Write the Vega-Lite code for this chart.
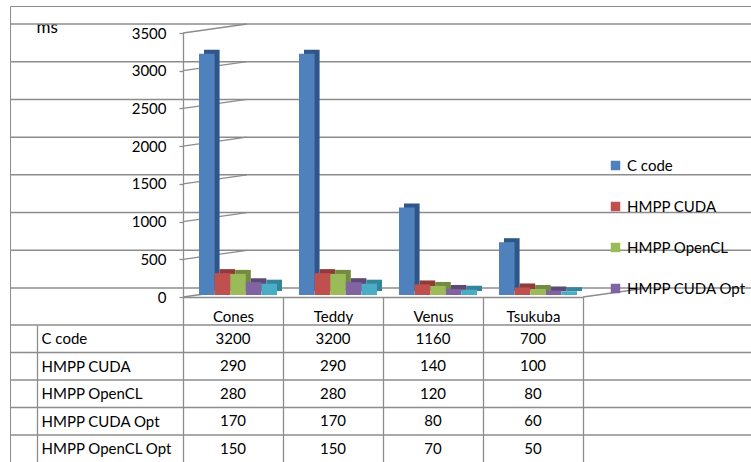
{
  "$schema": "https://vega.github.io/schema/vega-lite/v6.json",
  "width": 745,
  "height": 461,
  "padding": {"left": 10, "top": 6, "right": 0, "bottom": 0},
  "autosize": {"type": "none"},
  "background": "white",
  "config": {
    "view": {"stroke": "#8c8c8c", "strokeWidth": 1},
    "font": "Lato",
    "axis": {"labelFont": "Lato", "labelColor": "#000000", "titleFont": "Lato", "titleColor": "#000000", "titleFontWeight": "normal"},
    "legend": {"labelFont": "Lato", "labelColor": "#000000"},
    "text": {"font": "Lato", "color": "#000000"}
  },
  "datasets": {
    "times": [
      {"category": "Cones", "series": "C code", "value": 3200},
      {"category": "Cones", "series": "HMPP CUDA", "value": 290},
      {"category": "Cones", "series": "HMPP OpenCL", "value": 280},
      {"category": "Cones", "series": "HMPP CUDA Opt", "value": 170},
      {"category": "Cones", "series": "HMPP OpenCL Opt", "value": 150},
      {"category": "Teddy", "series": "C code", "value": 3200},
      {"category": "Teddy", "series": "HMPP CUDA", "value": 290},
      {"category": "Teddy", "series": "HMPP OpenCL", "value": 280},
      {"category": "Teddy", "series": "HMPP CUDA Opt", "value": 170},
      {"category": "Teddy", "series": "HMPP OpenCL Opt", "value": 150},
      {"category": "Venus", "series": "C code", "value": 1160},
      {"category": "Venus", "series": "HMPP CUDA", "value": 140},
      {"category": "Venus", "series": "HMPP OpenCL", "value": 120},
      {"category": "Venus", "series": "HMPP CUDA Opt", "value": 80},
      {"category": "Venus", "series": "HMPP OpenCL Opt", "value": 70},
      {"category": "Tsukuba", "series": "C code", "value": 700},
      {"category": "Tsukuba", "series": "HMPP CUDA", "value": 100},
      {"category": "Tsukuba", "series": "HMPP OpenCL", "value": 80},
      {"category": "Tsukuba", "series": "HMPP CUDA Opt", "value": 60},
      {"category": "Tsukuba", "series": "HMPP OpenCL Opt", "value": 50}
    ],
    "gridValues": [
      {"v": 0}, {"v": 500}, {"v": 1000}, {"v": 1500},
      {"v": 2000}, {"v": 2500}, {"v": 3000}, {"v": 3500}
    ]
  },
  "layer": [
    {
      "data": {"name": "gridValues"},
      "mark": {"type": "rule", "color": "#8c8c8c", "strokeWidth": 1.5, "xOffset": 187, "x2Offset": -158, "yOffset": -9, "y2Offset": -9},
      "encoding": {
        "y": {"field": "v", "type": "quantitative", "scale": {"domain": [0, 3500], "range": [291, 27], "nice": false}, "axis": null}
      }
    },
    {
      "data": {"name": "gridValues"},
      "mark": {"type": "rule", "color": "#8c8c8c", "strokeWidth": 1.3, "x2Offset": 14, "y2Offset": -9},
      "encoding": {
        "x": {"datum": "Cones", "bandPosition": 0},
        "x2": {"datum": "Cones"},
        "y": {"field": "v", "type": "quantitative", "scale": {"domain": [0, 3500], "range": [291, 27], "nice": false}, "axis": null},
        "y2": {"field": "v"}
      }
    },
    {
      "data": {"values": [{"v": 0}]},
      "mark": {"type": "rule", "color": "#8c8c8c", "strokeWidth": 1.3, "x2Offset": 114, "y2Offset": -9},
      "encoding": {
        "x": {"datum": "Tsukuba", "bandPosition": 1},
        "x2": {"datum": "Tsukuba"},
        "y": {"field": "v", "type": "quantitative", "scale": {"domain": [0, 3500], "range": [291, 27], "nice": false}, "axis": null},
        "y2": {"field": "v"}
      }
    },
    {
      "data": {"name": "times"},
      "mark": {"type": "bar", "yOffset": -6, "y2Offset": -6},
      "encoding": {
        "x": {"field": "category", "type": "nominal", "sort": null},
        "xOffset": {"field": "series", "type": "nominal", "sort": null,
                    "scale": {"domain": ["C code", "HMPP CUDA", "HMPP OpenCL", "HMPP CUDA Opt", "HMPP OpenCL Opt"], "range": [21, 99], "paddingInner": 0, "paddingOuter": 0}},
        "y": {"field": "value", "type": "quantitative", "scale": {"domain": [0, 3500], "range": [291, 27], "nice": false}, "axis": null},
        "color": {
          "field": "series", "type": "nominal", "sort": null,
          "scale": {"domain": ["C code", "HMPP CUDA", "HMPP OpenCL", "HMPP CUDA Opt", "HMPP OpenCL Opt"],
                    "range": ["#2f5689", "#8f3b39", "#728b41", "#5d4978", "#32859b"]},
          "legend": null
        }
      }
    },
    {
      "data": {"name": "times"},
      "mark": {"type": "bar", "yOffset": -2, "y2Offset": -2},
      "encoding": {
        "x": {"field": "category", "type": "nominal", "sort": null,
              "scale": {"domain": ["Cones", "Teddy", "Venus", "Tsukuba"], "range": [173, 573], "paddingInner": 0, "paddingOuter": 0}},
        "xOffset": {"field": "series", "type": "nominal", "sort": null,
                    "scale": {"domain": ["C code", "HMPP CUDA", "HMPP OpenCL", "HMPP CUDA Opt", "HMPP OpenCL Opt"], "range": [16, 94], "paddingInner": 0, "paddingOuter": 0}},
        "y": {
          "field": "value", "type": "quantitative",
          "scale": {"domain": [0, 3500], "range": [291, 27], "nice": false},
          "axis": {
            "orient": "left", "offset": -173, "format": "d",
            "values": [0, 500, 1000, 1500, 2000, 2500, 3000, 3500],
            "grid": false, "domainColor": "#8c8c8c", "domainWidth": 1.3,
            "tickColor": "#8c8c8c", "tickSize": 4, "tickWidth": 1.3,
            "labelFontSize": 15, "labelPadding": 13,
            "title": "ms", "titleAngle": 0, "titleFontSize": 17,
            "titleAlign": "left", "titleBaseline": "middle", "titleX": -147, "titleY": 21
          }
        },
        "color": {
          "field": "series", "type": "nominal", "sort": null,
          "scale": {"domain": ["C code", "HMPP CUDA", "HMPP OpenCL", "HMPP CUDA Opt", "HMPP OpenCL Opt"],
                    "range": ["#4f81bd", "#c0504d", "#9bbb59", "#8064a2", "#4bacc6"]},
          "legend": {
            "title": null, "orient": "none", "legendX": 598, "legendY": 152,
            "values": ["C code", "HMPP CUDA", "HMPP OpenCL", "HMPP CUDA Opt"],
            "symbolType": "square", "symbolSize": 90, "symbolStrokeWidth": 0,
            "labelFontSize": 15, "rowPadding": 25, "labelOffset": 4
          }
        }
      }
    },
    {
      "data": {"name": "times"},
      "transform": [{"filter": "datum.category === 'Cones'"}],
      "mark": {"type": "rule", "color": "#8c8c8c", "strokeWidth": 1.3, "xOffset": 27, "x2Offset": -172},
      "encoding": {
        "y": {"field": "series", "type": "nominal", "sort": null, "bandPosition": 0,
              "scale": {"domain": ["C code", "HMPP CUDA", "HMPP OpenCL", "HMPP CUDA Opt", "HMPP OpenCL Opt"], "range": [319, 456.5], "paddingInner": 0, "paddingOuter": 0},
              "axis": null}
      }
    },
    {
      "data": {"name": "times"},
      "mark": {"type": "text", "fontSize": 15, "baseline": "middle", "align": "center"},
      "encoding": {
        "x": {
          "field": "category", "type": "nominal", "sort": null,
          "axis": {
            "orient": "bottom", "offset": -170, "title": null,
            "tickBand": "extent", "tickSize": 165, "tickColor": "#8c8c8c", "tickWidth": 1.3,
            "domainColor": "#8c8c8c", "domainWidth": 1.3,
            "labelFontSize": 15, "labelAngle": 0, "labelAlign": "center",
            "labelPadding": -153, "labelBaseline": "top"
          }
        },
        "y": {
          "field": "series", "type": "nominal", "sort": null,
          "scale": {"domain": ["C code", "HMPP CUDA", "HMPP OpenCL", "HMPP CUDA Opt", "HMPP OpenCL Opt"], "range": [319, 456.5], "paddingInner": 0, "paddingOuter": 0},
          "axis": {
            "orient": "left", "offset": -27, "title": null,
            "ticks": false, "domainColor": "#8c8c8c", "domainWidth": 1.3,
            "labelAlign": "left", "labelPadding": -4, "labelFontSize": 15
          }
        },
        "text": {"field": "value", "type": "quantitative"}
      }
    }
  ],
  "resolve": {"scale": {"y": "independent", "color": "independent", "xOffset": "independent"}, "axis": {"y": "independent"}}
}
